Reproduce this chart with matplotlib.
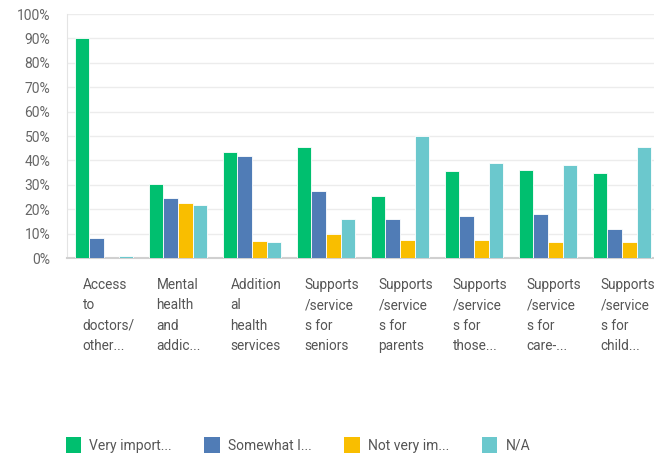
import numpy as np
import matplotlib.pyplot as plt
from matplotlib.patches import Patch

plt.rcParams['font.family'] = ['Roboto', 'DejaVu Sans']

categories = [
    "Access\nto\ndoctors/\nother...",
    "Mental\nhealth\nand\naddic...",
    "Addition\nal\nhealth\nservices",
    "Supports\n/service\ns for\nseniors",
    "Supports\n/service\ns for\nparents",
    "Supports\n/service\ns for\nthose...",
    "Supports\n/service\ns for\ncare-...",
    "Supports\n/service\ns for\nchild...",
]
series_names = ["Very import...", "Somewhat I...", "Not very im...", "N/A"]
very_important = [90.2, 30.3, 43.3, 45.5, 25.5, 35.5, 36.1, 35.0]
somewhat_important = [8.2, 24.5, 41.8, 27.6, 16.0, 17.1, 18.2, 11.9]
not_very_important = [0.0, 22.4, 7.1, 9.8, 7.2, 7.2, 6.6, 6.6]
not_applicable = [0.8, 21.8, 6.6, 16.0, 50.1, 39.1, 38.1, 45.5]
colors = ["#00BF6F", "#507CB6", "#F9BE00", "#6BC8CD"]

fig = plt.figure(figsize=(6.54, 4.53), dpi=100)
ax = fig.add_axes([67 / 654, 195 / 453, 592 / 654, 244 / 453])

x = np.arange(len(categories))
w = 0.196
all_series = [very_important, somewhat_important, not_very_important, not_applicable]
for i, (vals, c) in enumerate(zip(all_series, colors)):
    ax.bar(x + (i - 1.5) * w, vals, width=w, color=c, edgecolor="white",
           linewidth=0.6, zorder=3)

ax.set_xlim(-0.5, len(categories) - 0.5)
ax.set_ylim(0, 100)
ax.set_yticks(range(0, 101, 10))
ax.set_yticklabels([f"{v}%" for v in range(0, 101, 10)])
ax.tick_params(axis="y", length=0, pad=12, labelsize=10, labelcolor="#666666")
ax.set_xticks([])
ax.grid(axis="y", color="#ececec", linewidth=1, zorder=0)
for s in ["top", "right"]:
    ax.spines[s].set_visible(False)
ax.spines["left"].set_color("#e4e4e4")
ax.spines["bottom"].set_color("#d0d0d0")
ax.spines["bottom"].set_linewidth(1.5)

# category labels, left-aligned under each group
for xi, lab in zip(x, categories):
    ax.text(xi - 0.29, -8.0, lab, transform=ax.transData, ha="left", va="top",
            fontsize=9.8, color="#555555", linespacing=1.6, clip_on=False)

handles = [Patch(facecolor=c, edgecolor="none") for c in colors]
fig.legend(handles, series_names, loc="lower left", bbox_to_anchor=(53 / 654, -0.028),
           ncol=4, frameon=False, fontsize=10, labelcolor="#555555",
           handlelength=1.1, handleheight=1.4, handletextpad=0.6,
           columnspacing=2.35)

fig.savefig("out.png", dpi=100)
